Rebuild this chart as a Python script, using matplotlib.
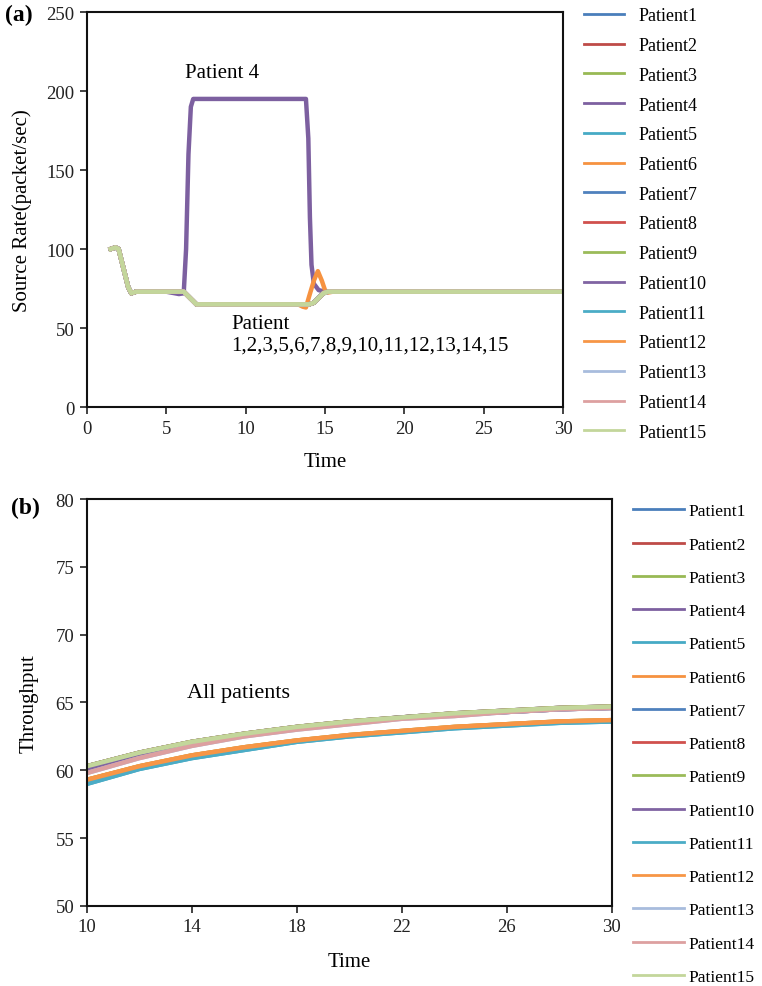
import numpy as np
import matplotlib
matplotlib.use("Agg")
import matplotlib.pyplot as plt

plt.rcParams['font.family'] = ['Liberation Serif', 'DejaVu Serif']

# ── Data: panel (a) source rate ──
patients = ["Patient%d" % i for i in range(1, 16)]
colors = ["#4A7EBB", "#BE4B48", "#98B954", "#7D60A0", "#46AAC5", "#F69240",
          "#4F81BD", "#D0504D", "#9BBB59", "#8064A2", "#4BACC6", "#F79646",
          "#A8BCDD", "#DDA0A0", "#C3D69B"]

# common curve (all patients except 4)
t_common = [1.5, 1.8, 2.0, 2.3, 2.6, 2.8, 3.1, 3.5, 4, 5, 5.8, 6.1, 6.4, 6.7, 6.9,
            7.2, 8, 10, 12, 13.6, 14.0, 14.3, 14.6, 14.9, 15.2, 15.5, 16, 20, 25, 30]
r_common = [100, 101, 100, 88, 76, 72, 73, 73, 73, 73, 73, 73, 70, 67, 65,
            65, 65, 65, 65, 65, 65, 66, 69, 72, 73, 73, 73, 73, 73, 73]

t_p4 = [1.5, 1.8, 2.0, 2.3, 2.6, 2.8, 3.1, 3.5, 4, 5, 5.8, 6.1, 6.25, 6.4, 6.55,
        6.7, 8, 10, 12, 13.8, 13.95, 14.05, 14.15, 14.3, 14.6, 15.0, 16, 20, 25, 30]
r_p4 = [100, 101, 100, 88, 76, 72, 73, 73, 73, 73, 71.5, 72, 100, 160, 190,
        195, 195, 195, 195, 195, 170, 120, 90, 78, 74, 73, 73, 73, 73, 73]

t_p6 = [1.5, 1.8, 2.0, 2.3, 2.6, 2.8, 3.1, 3.5, 4, 5, 5.8, 6.1, 6.4, 6.7, 6.9,
        7.2, 8, 10, 12, 13.3, 13.6, 13.8, 14.0, 14.3, 14.55, 14.8, 15.0, 15.2, 15.5,
        16, 20, 25, 30]
r_p6 = [100, 101, 100, 88, 76, 72, 73, 73, 73, 73, 73, 73, 70, 67, 65,
        65, 65, 65, 65, 65, 63.5, 63, 70, 80, 86, 80, 74, 72.5, 73,
        73, 73, 73, 73]

# ── Data: panel (b) throughput ──
t_thr = [10, 12, 14, 16, 18, 20, 22, 24, 26, 28, 30]
thr_upper = [60.3, 61.3, 62.1, 62.7, 63.2, 63.6, 63.9, 64.2, 64.4, 64.6, 64.7]
thr_upper_b = [60.1, 61.1, 62.0, 62.6, 63.1, 63.5, 63.9, 64.1, 64.3, 64.5, 64.6]
thr_upper_c = [59.8, 60.9, 61.8, 62.5, 63.0, 63.4, 63.8, 64.0, 64.3, 64.5, 64.6]
thr_lower = [59.3, 60.3, 61.1, 61.7, 62.2, 62.6, 62.9, 63.2, 63.4, 63.6, 63.7]
thr_lower_b = [59.0, 60.1, 60.9, 61.5, 62.1, 62.5, 62.8, 63.1, 63.3, 63.5, 63.6]

thr_series = [thr_upper, thr_upper_b, thr_lower, thr_upper, thr_lower_b, thr_lower,
              thr_upper_b, thr_upper, thr_upper, thr_upper_b, thr_lower_b, thr_lower,
              thr_upper_c, thr_upper_c, thr_upper]

fig = plt.figure(figsize=(7.62, 9.87), dpi=100)

ax1 = fig.add_axes([0.114, 0.5866, 0.625, 0.4002])
ax2 = fig.add_axes([0.114, 0.0811, 0.689, 0.4123])


def style(ax):
    for s in ax.spines.values():
        s.set_linewidth(1.5)
        s.set_color("#111111")
    ax.tick_params(direction="out", length=5, width=1.2, labelsize=13.5, pad=4,
                   top=False, right=False, colors="#222222")


# panel (a)
for i, (name, c) in enumerate(zip(patients, colors)):
    if i == 3:
        ax1.plot(t_p4, r_p4, color=c, lw=3.2, label=name)
    elif i == 5:
        ax1.plot(t_p6, r_p6, color=c, lw=3.2, label=name)
    else:
        ax1.plot(t_common, r_common, color=c, lw=3.2, label=name)
ax1.set_xlim(0, 30)
ax1.set_ylim(0, 250)
ax1.set_xticks([0, 5, 10, 15, 20, 25, 30])
ax1.set_yticks([0, 50, 100, 150, 200, 250])
ax1.set_xlabel("Time", fontsize=15, labelpad=11)
ax1.set_ylabel("Source Rate(packet/sec)", fontsize=15, labelpad=10)
style(ax1)
ax1.text(6.2, 212, "Patient 4", fontsize=15, va="center")
ax1.text(9.1, 53, "Patient", fontsize=15, va="center")
ax1.text(9.1, 39, "1,2,3,5,6,7,8,9,10,11,12,13,14,15", fontsize=15, va="center")

leg1 = ax1.legend(handles=[l for l in ax1.get_lines()], loc="upper left",
                  bbox_to_anchor=(0.745, 1.008), bbox_transform=fig.transFigure,
                  frameon=False, fontsize=13, labelspacing=0.705, handlelength=2.2,
                  handletextpad=0.8)
for h in leg1.get_lines():
    h.set_linewidth(2)

# panel (b)
for name, c, y in zip(patients, colors, thr_series):
    ax2.plot(t_thr, y, color=c, lw=3.2, label=name)
ax2.set_xlim(10, 30)
ax2.set_ylim(50, 80)
ax2.set_xticks([10, 14, 18, 22, 26, 30])
ax2.set_yticks([50, 55, 60, 65, 70, 75, 80])
ax2.set_xlabel("Time", fontsize=15, labelpad=12)
ax2.set_ylabel("Throughput", fontsize=15, labelpad=12)
style(ax2)
ax2.text(13.8, 65.7, "All patients", fontsize=16, va="center")

leg2 = ax2.legend(loc="upper left", bbox_to_anchor=(0.8105, 0.505), bbox_transform=fig.transFigure,
                  frameon=False, fontsize=12.5, labelspacing=0.985, handlelength=2.94,
                  handletextpad=0.23)
for h in leg2.get_lines():
    h.set_linewidth(2)

fig.text(0.007, 0.984, "(a)", fontsize=17, fontweight="bold", va="center")
fig.text(0.014, 0.485, "(b)", fontsize=17, fontweight="bold", va="center")

fig.savefig("out.png", dpi=100)
